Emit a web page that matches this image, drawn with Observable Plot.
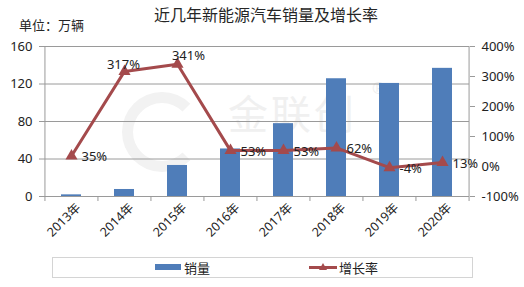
<!DOCTYPE html>
<html><head><meta charset="utf-8">
<script src="https://cdn.jsdelivr.net/npm/d3@7"></script>
<script src="https://cdn.jsdelivr.net/npm/@observablehq/plot@0.6"></script>
<style>
body{margin:0;background:#fff;}
#wrap{position:relative;width:524px;height:287px;overflow:hidden;font-family:"Noto Sans","Noto Sans CJK SC",sans-serif;color:#222;background:#fff}
#title{position:absolute;left:4px;width:524px;top:4px;text-align:center;font-size:16px;line-height:20px;font-family:"Noto Sans CJK SC",sans-serif;color:#262626}
#unit{position:absolute;left:19px;top:16px;font-size:13px;line-height:18px;font-family:"Noto Sans CJK SC",sans-serif;color:#262626}
#wm{position:absolute;left:228px;top:92px;font-size:40px;line-height:40px;height:40px;font-family:"Noto Sans CJK SC",sans-serif;color:#f0f0f0;letter-spacing:3px}
#wmr{position:absolute;left:372px;top:80px;font-size:16px;line-height:16px;color:#f0f0f0}
#ring{position:absolute;left:122px;top:92px;width:58px;height:58px;border:11px solid #f2f2f2;border-radius:50%;border-right-color:transparent}
#plot{position:absolute;left:0;top:0}
#legend{position:absolute;left:52px;top:257px;width:419px;height:19px;border:1px solid #d4d4d4;font-family:"Noto Sans CJK SC",sans-serif;font-size:13px}
.li{position:absolute;top:0;line-height:19px;display:flex;align-items:center}
</style></head>
<body><div id="wrap">
<div id="ring"></div>
<div id="wm">金联创</div><div id="wmr">®</div>
<div id="plot"></div>
<div id="title">近几年新能源汽车销量及增长率</div>
<div id="unit">单位：万辆</div>
<div id="legend"></div>
</div>
<script>
const years = ["2013年","2014年","2015年","2016年","2017年","2018年","2019年","2020年"];
const sales = [1.76, 7.48, 33.1, 50.7, 77.7, 125.6, 120.6, 136.7];
const growth = [35, 317, 341, 53, 53, 62, -4, 13];
const leftTicks = [0, 40, 80, 120, 160];
const rightTicks = [-100, 0, 100, 200, 300, 400];
const seriesNames = ["销量", "增长率"];

const barColor = "#4F7DB9";
const lineColor = "#A44A4C";
const W = 524, H = 287, mL = 44, mR = 55, mT = 46, mB = 91;
const half = (W - mL - mR) / years.length / 2;
const toLeft = r => (r + 100) * 160 / 500;
const unitPx = (H - mT - mB) / 160;

const idx = d3.range(years.length);
const sideLabels = idx.filter(i => i !== 1 && i !== 2);

const labelOpts = {x: i => years[i], y: i => toLeft(growth[i]), text: i => growth[i] + "%", fontSize: 13, fill: "#222"};

const chart = Plot.plot({
  width: W, height: H, marginTop: mT, marginBottom: mB, marginLeft: mL, marginRight: mR,
  style: {fontFamily: '"Noto Sans","Noto Sans CJK SC",sans-serif', fontSize: "13px", color: "#222", background: "transparent"},
  x: {type: "band", domain: years, paddingInner: 0.62, paddingOuter: 0.31},
  y: {domain: [0, 160]},
  marks: [
    Plot.ruleY(leftTicks.slice(1), {stroke: "#9a9a9a", strokeWidth: 1}),
    Plot.ruleY([0], {stroke: "#9a9a9a"}),
    Plot.ruleX([years[0]], {x: d => d, dx: -half, y1: 0, y2: 160, stroke: "#9a9a9a"}),
    Plot.ruleX([years[years.length - 1]], {x: d => d, dx: half, y1: 0, y2: 160, stroke: "#9a9a9a"}),
    Plot.ruleX(years, {x: d => d, dx: -half, y1: 0, y2: -5 / unitPx, stroke: "#9a9a9a"}),
    Plot.ruleX([years[years.length - 1]], {x: d => d, dx: half, y1: 0, y2: -5 / unitPx, stroke: "#9a9a9a"}),
    Plot.axisY(leftTicks, {anchor: "left", tickSize: 5, tickPadding: 7, stroke: "#9a9a9a", fill: "#222", label: null, fontSize: 13}),
    Plot.axisY(rightTicks.map(toLeft), {anchor: "right", tickSize: 5, tickPadding: 7, stroke: "#9a9a9a", fill: "#222", label: null, fontSize: 13,
      tickFormat: v => Math.round(v * 500 / 160 - 100) + "%"}),
    Plot.axisX({tickRotate: -45, tickSize: 0, tickPadding: 4, fontSize: 12.5, fill: "#222", label: null, dx: 7, dy: 5}),
    Plot.barY(idx, {x: i => years[i], y: i => sales[i], fill: barColor}),
    Plot.line(idx, {x: i => years[i], y: i => toLeft(growth[i]), stroke: lineColor, strokeWidth: 3}),
    Plot.dot(idx, {x: i => years[i], y: i => toLeft(growth[i]), symbol: "triangle", fill: lineColor, r: 4.5}),
    Plot.text(sideLabels, {...labelOpts, textAnchor: "start", dx: 10, dy: 1}),
    Plot.text([1], {...labelOpts, textAnchor: "middle", dx: -1, dy: -7}),
    Plot.text([2], {...labelOpts, textAnchor: "middle", dx: 11, dy: -8})
  ]
});
document.getElementById("plot").appendChild(chart);

// legend
const lg = document.getElementById("legend");
lg.innerHTML =
  `<div class="li" style="left:102px"><svg width="27" height="19"><rect x="0" y="6" width="26" height="6" fill="${barColor}"/></svg><span style="margin-left:2px">${seriesNames[0]}</span></div>` +
  `<div class="li" style="left:255px"><svg width="30" height="19"><line x1="1" x2="29" y1="9.5" y2="9.5" stroke="${lineColor}" stroke-width="3"/><path d="M15,5 L19,12 L11,12 Z" fill="${lineColor}"/></svg><span style="margin-left:1px">${seriesNames[1]}</span></div>`;
</script>
</body></html>
